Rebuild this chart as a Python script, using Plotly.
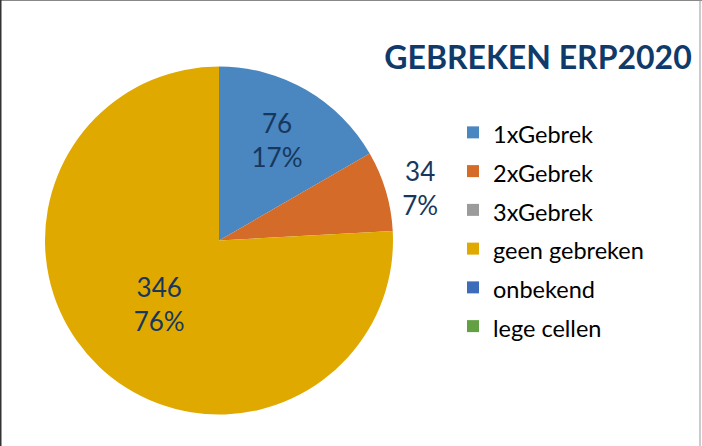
import plotly.graph_objects as go

categories = ["1xGebrek", "2xGebrek", "3xGebrek", "geen gebreken", "onbekend", "lege cellen"]
values = [76, 34, 0, 346, 0, 0]
colors = ["#4A86BF", "#D46B28", "#9B9B9B", "#E0A900", "#3D6CB9", "#62A043"]
label_pos = ["inside", "outside", "none", "inside", "none", "none"]

W, H = 702, 446
legend_labels = [f"<span style='font-size:23.5px'>{c}</span>" for c in categories]

fig = go.Figure(go.Pie(
    labels=legend_labels,
    values=values,
    marker=dict(colors=colors, line=dict(width=0)),
    sort=False,
    direction="clockwise",
    rotation=0,
    texttemplate="%{value}<br>%{percent:.0%}",
    textposition=label_pos,
    insidetextorientation="horizontal",
    textfont=dict(family="Lato", size=26, color="#17375E"),
    domain=dict(x=[45 / W, 393 / W], y=[31 / H, 380 / H]),
    hoverinfo="label+value+percent",
))

fig.update_layout(
    width=W, height=H,
    margin=dict(l=0, r=0, t=0, b=0),
    paper_bgcolor="white",
    title=dict(text="<b>GEBREKEN ERP2020</b>", x=538 / W, xanchor="center",
               y=1 - 58 / H, yanchor="middle",
               font=dict(family="Lato", size=32, color="#0F3A6A")),
    legend=dict(x=453 / W, xanchor="left", y=1 - 108 / H, yanchor="top",
                font=dict(family="Lato", size=27.5, color="#000000"),
                bgcolor="rgba(0,0,0,0)"),
    shapes=[
        dict(type="line", xref="paper", yref="paper", x0=0, x1=1, y0=1, y1=1,
             line=dict(color="#888888", width=2)),
        dict(type="line", xref="paper", yref="paper", x0=0, x1=0, y0=0, y1=1,
             line=dict(color="#333333", width=3)),
        dict(type="line", xref="paper", yref="paper", x0=700 / W, x1=700 / W, y0=0, y1=1,
             line=dict(color="#999999", width=1)),
    ],
)

fig.write_html("out.html")
